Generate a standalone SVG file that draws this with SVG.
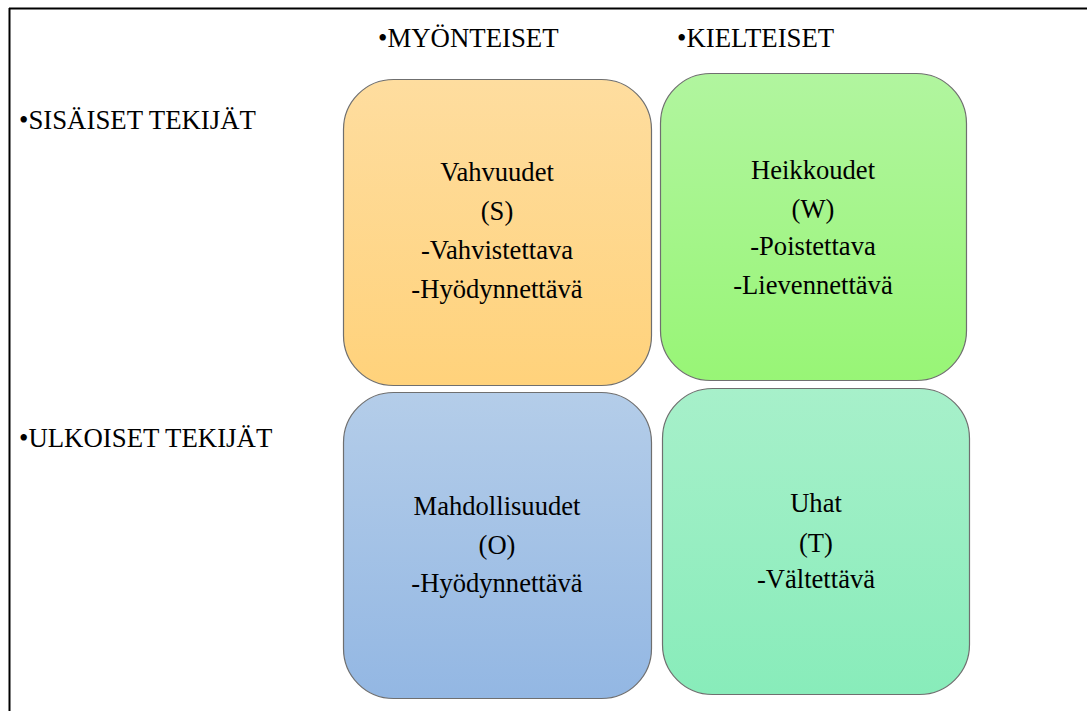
<svg xmlns="http://www.w3.org/2000/svg" width="1087" height="711" viewBox="0 0 1087 711">
<style>
.lbl{font-size:26.8px;fill:#000}
.txt{font-size:26.6px;fill:#000;text-anchor:middle}
.box{stroke:#6f6f6f;stroke-width:1.2}
</style>
<defs>
<linearGradient id="gS" x1="0" y1="0" x2="0" y2="1"><stop offset="0" stop-color="#FEDD9F"/><stop offset="1" stop-color="#FFD27B"/></linearGradient>
<linearGradient id="gW" x1="0" y1="0" x2="0" y2="1"><stop offset="0" stop-color="#B1F59F"/><stop offset="1" stop-color="#98F576"/></linearGradient>
<linearGradient id="gO" x1="0" y1="0" x2="0" y2="1"><stop offset="0" stop-color="#B4CDE9"/><stop offset="1" stop-color="#93B7E3"/></linearGradient>
<linearGradient id="gT" x1="0" y1="0" x2="0" y2="1"><stop offset="0" stop-color="#A7F0CA"/><stop offset="1" stop-color="#88ECBA"/></linearGradient>
</defs>
<rect width="1087" height="711" fill="#fff"/>
<g id="frame">
<line x1="9" y1="8.5" x2="1087" y2="8.5" stroke="#000" stroke-width="2"/>
<line x1="9.5" y1="8" x2="9.5" y2="711" stroke="#000" stroke-width="2"/>
</g>
<g id="headers" font-family="Liberation Serif, serif">
<text class="lbl" x="378" y="47">•MYÖNTEISET</text>
<text class="lbl" x="677" y="47">•KIELTEISET</text>
<text class="lbl" x="19" y="129">•SISÄISET TEKIJÄT</text>
<text class="lbl" x="19" y="447">•ULKOISET TEKIJÄT</text>
</g>
<g id="strengths" font-family="Liberation Serif, serif">
<rect class="box" x="343.5" y="79.5" width="308" height="306" rx="50" fill="url(#gS)"/>
<text class="txt" x="497" y="181">Vahvuudet</text>
<text class="txt" x="497" y="220">(S)</text>
<text class="txt" x="497" y="259">-Vahvistettava</text>
<text class="txt" x="497" y="298">-Hyödynnettävä</text>
</g>
<g id="weaknesses" font-family="Liberation Serif, serif">
<rect class="box" x="660.5" y="73.5" width="306" height="307" rx="50" fill="url(#gW)"/>
<text class="txt" x="813" y="179">Heikkoudet</text>
<text class="txt" x="813" y="218">(W)</text>
<text class="txt" x="813" y="255">-Poistettava</text>
<text class="txt" x="813" y="294">-Lievennettävä</text>
</g>
<g id="opportunities" font-family="Liberation Serif, serif">
<rect class="box" x="343.5" y="392.5" width="308" height="306" rx="50" fill="url(#gO)"/>
<text class="txt" x="497" y="515">Mahdollisuudet</text>
<text class="txt" x="497" y="554">(O)</text>
<text class="txt" x="497" y="592">-Hyödynnettävä</text>
</g>
<g id="threats" font-family="Liberation Serif, serif">
<rect class="box" x="662.5" y="388.5" width="307" height="306" rx="50" fill="url(#gT)"/>
<text class="txt" x="816" y="512">Uhat</text>
<text class="txt" x="816" y="552">(T)</text>
<text class="txt" x="816" y="588">-Vältettävä</text>
</g>
<g id="connectors"/>
</svg>
